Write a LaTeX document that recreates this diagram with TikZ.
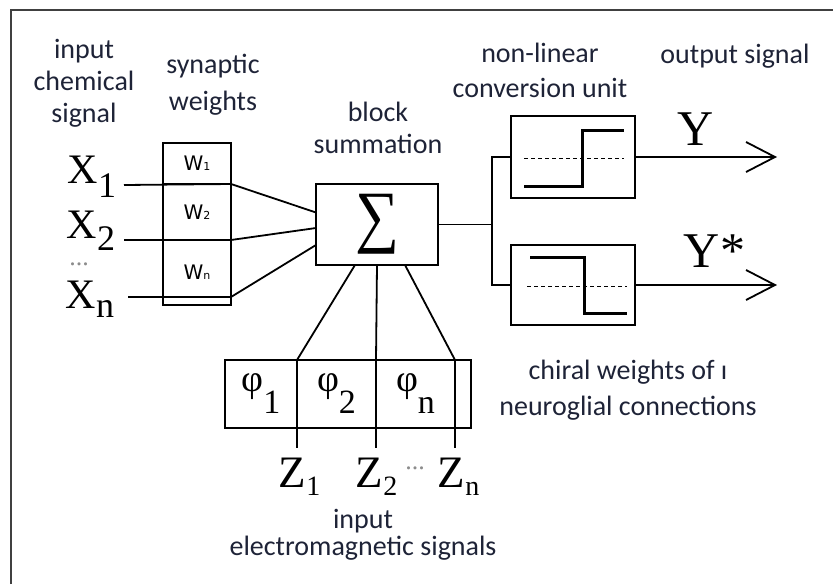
\documentclass[tikz,border=0pt]{standalone}
\usepackage{fontspec}
\usepackage{graphicx}
\setmainfont{Carlito}
\newfontfamily\tmsfont{Liberation Serif}
\newfontfamily\wfont{DejaVu Sans}
\usetikzlibrary{arrows.meta}
\definecolor{txtcol}{RGB}{30,35,55}
\definecolor{framecol}{RGB}{64,64,64}
\newcommand\xsym[2]{{\tmsfont\fontsize{42}{42}\selectfont X\raisebox{-#2}{\fontsize{36}{36}\selectfont #1}}}
\newcommand\zsym[1]{{\tmsfont\fontsize{45}{45}\selectfont Z\raisebox{-8pt}{\fontsize{28}{28}\selectfont #1}}}
\newcommand\phisym[1]{{\tmsfont\fontsize{38}{38}\selectfont φ\raisebox{-22pt}{\fontsize{34}{34}\selectfont #1}}}
\newcommand\wsym[1]{{\wfont\fontsize{20}{20}\selectfont W{\fontsize{11}{11}\selectfont #1}}}
\tikzset{
  lbl/.style={font=\fontsize{28}{32}\selectfont, text=txtcol, align=center, inner sep=0pt},
  cell/.style={draw, inner sep=0pt, outer sep=0pt, anchor=north west},
  blockbox/.style={draw, inner sep=0pt, outer sep=0pt},
  stepline/.style={line width=3pt},
  zeroline/.style={line width=1pt, dash pattern=on 4pt off 3pt},
  outarrow/.style={-{Straight Barb[length=29pt,width=30pt]}},
  dots/.style={font=\tmsfont\fontsize{26}{26}\selectfont, text=black!45, inner sep=0pt}
}
\begin{document}
\begin{tikzpicture}[x=1pt,y=-1pt,line width=1.8pt]
\useasboundingbox (0,0) rectangle (833,584);
\draw[line width=2.5pt,framecol] (11,584) -- (11,10) -- (833,10);
\node[lbl,anchor=base] (chem) at (84,122) {input\\chemical\\signal};
\node[lbl,anchor=base] (syn) at (213,110) {synaptic\\[5pt]weights};
\node[lbl,anchor=base] (blk) at (378,153) {block\\summation};
\node[lbl,anchor=base] (nonlin) at (540,97) {non-linear\\[3pt]conversion unit};
\node[lbl,anchor=base] (outsig) at (735,63) {output signal};
\node[lbl,anchor=base] (chiral) at (628,415) {chiral weights of ı\\[4pt]neuroglial connections};
\node[lbl,anchor=base] (inem) at (363,555) {input\\[-5pt]electromagnetic signals};
\node[cell,minimum width=68pt,minimum height=41pt] (w1) at (163,143) {\wsym{1}};
\node[cell,minimum width=68pt,minimum height=56pt] (w2) at (163,184) {\wsym{2}};
\node[cell,minimum width=68pt,minimum height=65pt] (wn) at (163,240) {\wsym{n}};
\node[blockbox,minimum width=122pt,minimum height=81pt] (sum) at (377,224.5) {\resizebox*{44pt}{60pt}{\tmsfont ∑}};
\node[blockbox,minimum width=124pt,minimum height=82pt] (nl1) at (573,157) {};
\node[blockbox,minimum width=124pt,minimum height=80pt] (nl2) at (573,285) {};
\node[cell,minimum width=72pt,minimum height=68pt] (p1) at (225,360) {\phisym{1}};
\node[cell,minimum width=79pt,minimum height=68pt] (p2) at (297,360) {\phisym{2}};
\node[cell,minimum width=79pt,minimum height=68pt] (pn) at (376,360) {\phisym{n}};
\node[cell,minimum width=16pt,minimum height=68pt] (pe) at (455,360) {};
\node[anchor=base west,inner sep=0pt] (lx1) at (67,183) {\xsym{1}{14pt}};
\node[anchor=base west,inner sep=0pt] (lx2) at (66,238) {\xsym{2}{12pt}};
\node[anchor=base west,inner sep=0pt] (lxn) at (65,308) {\xsym{n}{9pt}};
\node[dots] (xdots) at (79,264) {...};
\coordinate (x1) at (124,185);
\coordinate (x2) at (124,240);
\coordinate (xn) at (128,297);
\draw (x1) -- (w1.south east) -- ([yshift=12pt]sum.west);
\draw (x2) -- (w2.south east) -- ([yshift=-3.5pt]sum.west);
\draw (xn) -- ([yshift=8pt]wn.south east) -- ([yshift=-20.5pt]sum.west);
\coordinate (br) at (492,224.5);
\draw (sum.east) -- (br);
\draw (nl1.west) -| (br) |- (nl2.west);
\draw[stepline] (524,186) -- (582,186) -- (582,130) -- (624,130);
\draw[zeroline] (524,158) -- (624,158);
\draw[stepline] (530,257) -- (584,257) -- (584,313) -- (627,313);
\draw[zeroline] (527,286) -- (627,286);
\coordinate (y1) at (777,157);
\coordinate (y2) at (777,285);
\draw[outarrow] (nl1.east) -- (y1);
\draw[outarrow] (nl2.east) -- (y2);
\node[anchor=base west,inner sep=0pt] (ly1) at (677,145) {\tmsfont\fontsize{50}{50}\selectfont Y};
\node[anchor=base west,inner sep=0pt] (ly2) at (683,267) {\tmsfont\fontsize{50}{50}\selectfont Y*};
\draw ([xshift=-22pt]sum.south) -- (p1.north east);
\draw (sum.south) -- (p2.north east);
\draw ([xshift=28pt]sum.south) -- (pn.north east);
\coordinate (z1) at (297,448);
\coordinate (z2) at (376,448);
\coordinate (zn) at (455,448);
\draw (p1.south east) -- (z1);
\draw (p2.south east) -- (z2);
\draw (pn.south east) -- (zn);
\node[anchor=base west,inner sep=0pt] (lz1) at (278,487) {\zsym{1}};
\node[anchor=base west,inner sep=0pt] (lz2) at (355,487) {\zsym{2}};
\node[dots] (zdots) at (415,468) {...};
\node[anchor=base west,inner sep=0pt] (lzn) at (437,487) {\zsym{n}};
\end{tikzpicture}
\end{document}
